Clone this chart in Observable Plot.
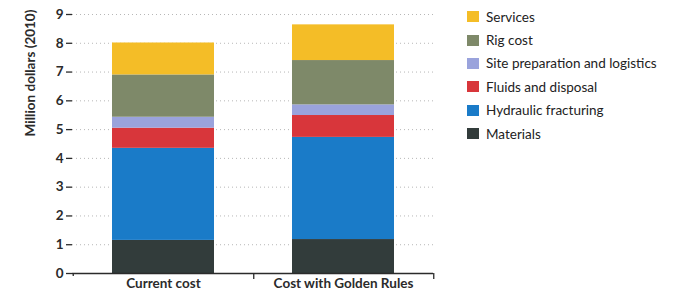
<!DOCTYPE html>
<html><head><meta charset="utf-8">
<script src="https://cdn.jsdelivr.net/npm/d3@7"></script>
<script src="https://cdn.jsdelivr.net/npm/@observablehq/plot@0.6"></script>
<style>
body{margin:0;background:#fff;}
#wrap{position:relative;width:677px;height:294px;font-family:Lato,"Open Sans",sans-serif;}
#legend{position:absolute;left:467px;top:5px;}
.li{display:flex;align-items:center;height:23.4px;font-size:13.5px;color:#222;}
.sw{width:12px;height:11px;margin-right:7px;}
#ylab{position:absolute;left:30px;top:73px;transform:translate(-50%,-50%) rotate(-90deg);white-space:nowrap;font-size:13.5px;font-weight:bold;color:#2b2b2b;}
</style></head>
<body><div id="wrap"><div id="legend"></div><div id="ylab"></div></div>
<script>
const scenarios = ["Current cost", "Cost with Golden Rules"];
const components = ["Materials", "Hydraulic fracturing", "Fluids and disposal", "Site preparation and logistics", "Rig cost", "Services"];
const colors = ["#323c3b", "#1a7bc8", "#d8363b", "#9aa3dc", "#7e8969", "#f4bd27"];
const currentCost = [1.15, 3.20, 0.70, 0.38, 1.47, 1.11];
const goldenRules = [1.18, 3.55, 0.76, 0.37, 1.54, 1.24];
const yTicks = [0,1,2,3,4,5,6,7,8,9];
const yLabel = "Million dollars (2010)";

const data = [];
components.forEach((c,i)=>{
  data.push({scenario: scenarios[0], component: c, value: currentCost[i]});
  data.push({scenario: scenarios[1], component: c, value: goldenRules[i]});
});
const ink = "#2b2b2b";
const plot = Plot.plot({
  width: 677, height: 294,
  marginLeft: 72, marginRight: 244, marginTop: 14, marginBottom: 21,
  style: {fontFamily: "Lato, 'Open Sans', sans-serif", fontSize: "13px", color: ink, background: "transparent"},
  x: {domain: scenarios, paddingInner: 0.435, paddingOuter: 0.2175, label: null},
  y: {domain: [0, 9], label: null},
  color: {domain: components, range: colors},
  marks: [
    Plot.gridY(yTicks.filter(d=>d>0), {stroke: "#999", strokeOpacity: 0.7, strokeDasharray: "1,3"}),
    Plot.barY(data, {x: "scenario", y: "value", fill: "component", order: components}),
    Plot.axisY(yTicks, {tickSize: 6, tickPadding: 3, label: null, fontWeight: "bold", fontSize: 13.5, stroke: ink, strokeWidth: 1.3}),
    Plot.axisX({tickSize: 0, tickPadding: 5, label: null, fontWeight: "bold", fontSize: 13.5}),
    Plot.ruleY([0], {stroke: ink, strokeWidth: 1.5}),
    Plot.ruleX([0], {frameAnchor: "left", stroke: ink, strokeWidth: 1.5, y1: 0, y2: 9}),
    Plot.ruleX(scenarios, {x: d=>d, dx: 90.25, y1: 0, y2: 0, insetBottom: -6, stroke: ink, strokeWidth: 1.3}),
    Plot.ruleX([scenarios[0]], {x: d=>d, dx: -90.25, y1: 0, y2: 0, insetBottom: -3, stroke: ink, strokeWidth: 1.3})
  ]
});
const wrap = document.getElementById("wrap");
wrap.insertBefore(plot, wrap.firstChild);
document.getElementById("ylab").textContent = yLabel;
const leg = document.getElementById("legend");
components.slice().reverse().forEach(c=>{
  const i = components.indexOf(c);
  const d = document.createElement("div"); d.className="li";
  d.innerHTML = `<span class="sw" style="background:${colors[i]}"></span><span>${c}</span>`;
  leg.appendChild(d);
});
</script></body></html>
